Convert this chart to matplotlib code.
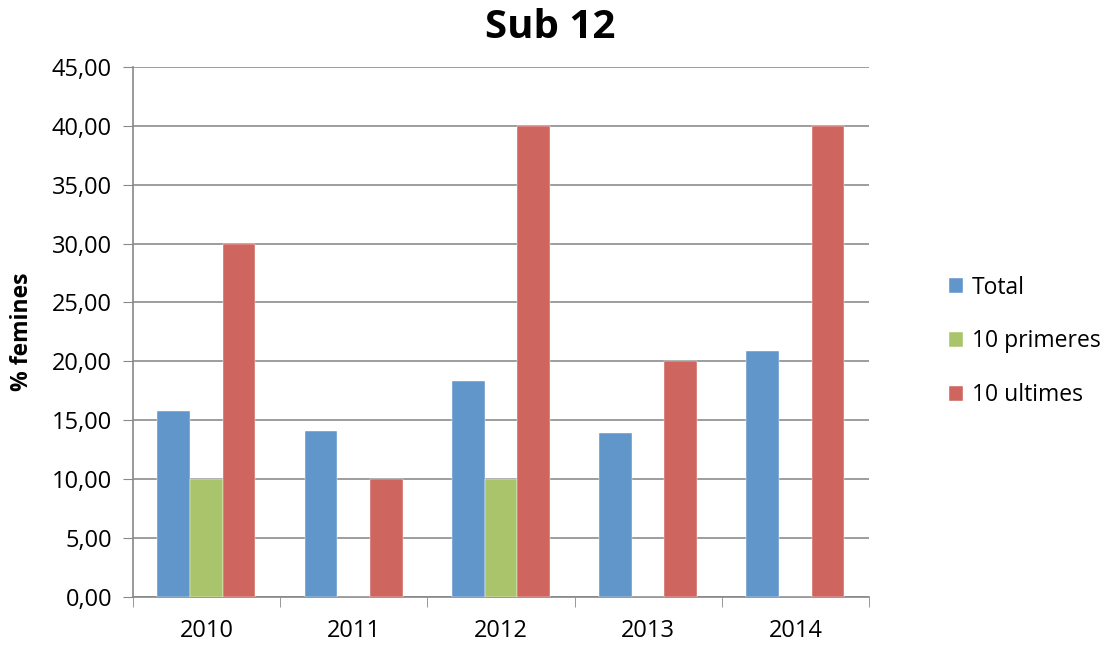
import matplotlib
matplotlib.use("Agg")
import matplotlib.pyplot as plt
import numpy as np

years = ["2010", "2011", "2012", "2013", "2014"]
total = [15.8, 14.1, 18.3, 13.95, 20.86]
primeres = [10.0, 0.0, 10.0, 0.0, 0.0]
ultimes = [30.0, 10.0, 40.0, 20.0, 40.0]
series_names = ["Total", "10 primeres", "10 ultimes"]
colors = ["#6096CA", "#AAC46B", "#CE665F"]
yticks = [0, 5, 10, 15, 20, 25, 30, 35, 40, 45]

plt.rcParams['font.family'] = ['Open Sans', 'DejaVu Sans']

fig = plt.figure(figsize=(11.07, 6.45), dpi=100)
ax = fig.add_axes([0.120, 0.0744, 0.665, 0.822])

x = np.arange(len(years))
w = 0.222
for i, (vals, name, c) in enumerate(zip([total, primeres, ultimes], series_names, colors)):
    ax.bar(x + (i - 1) * w, vals, width=w, color=c, label=name, zorder=3,
           edgecolor="white", linewidth=0.3)

ax.set_xlim(-0.5, len(years) - 0.5)
ax.set_ylim(0, 45)
ax.set_yticks(yticks)
ax.set_yticklabels([f"{v:.2f}".replace(".", ",") for v in yticks], fontsize=17)
ax.set_xticks(x)
ax.set_xticklabels(years, fontsize=17)
ax.set_xticks(np.arange(-0.5, len(years), 1), minor=True)
ax.tick_params(axis='x', which='major', length=0, pad=16)
ax.tick_params(axis='x', which='minor', length=7, color="#888888", direction='out')
ax.tick_params(axis='y', length=7, color="#888888", direction='out', pad=8)

ax.grid(axis='y', color="#8c8c8c", linewidth=1.2, zorder=0)
for s in ['top', 'right']:
    ax.spines[s].set_visible(False)
for s in ['left', 'bottom']:
    ax.spines[s].set_color("#888888")
    ax.spines[s].set_linewidth(1.2)

ax.set_ylabel("% femines", fontsize=16.5, fontweight='bold', labelpad=13)
fig.suptitle("Sub 12", fontsize=29, fontweight='bold', x=0.497, y=0.988)

leg = ax.legend(loc='center left', bbox_to_anchor=(1.096, 0.482), frameon=False,
                fontsize=16.5, handlelength=0.62, handleheight=0.62, handletextpad=0.4,
                labelspacing=1.3, borderaxespad=0)

fig.savefig("out.png", dpi=100)
